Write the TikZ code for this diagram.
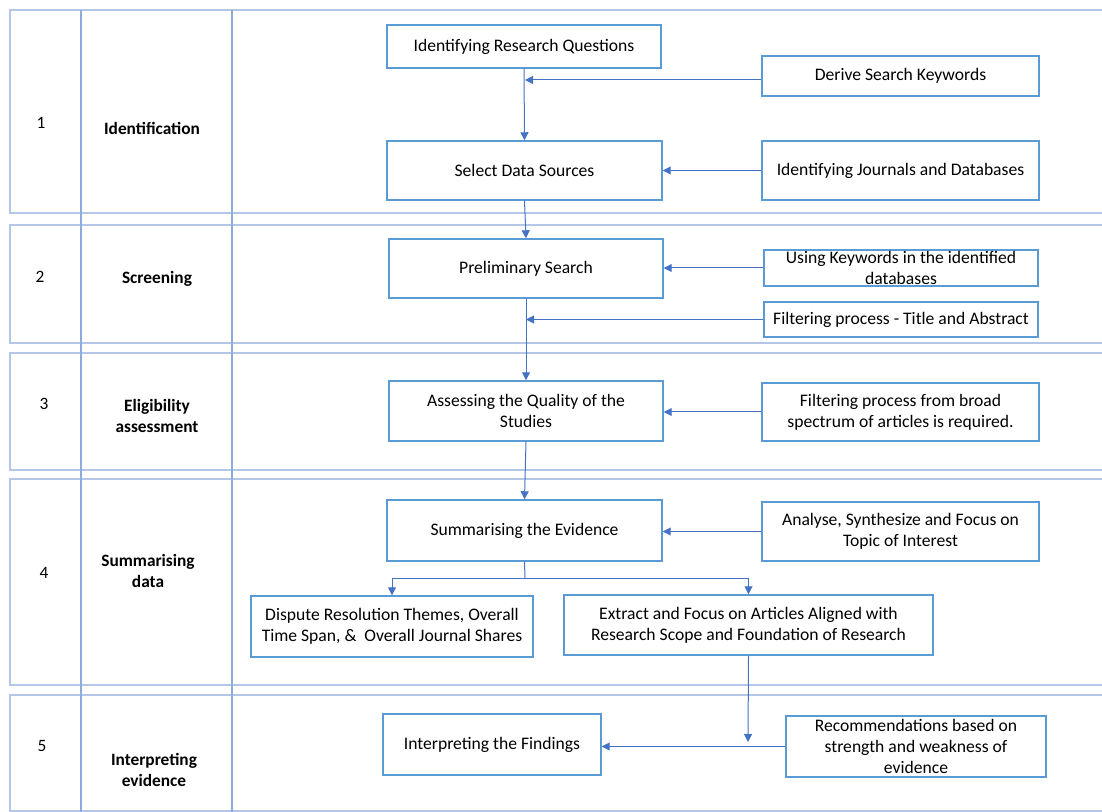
\documentclass[tikz,border=0pt]{standalone}
\usepackage{fontspec}
\setmainfont{Carlito}
\usetikzlibrary{arrows.meta}
\definecolor{lanec}{HTML}{B4C7E7}
\definecolor{vlinec}{HTML}{8FAADC}
\definecolor{boxc}{HTML}{5B9BD5}
\definecolor{arrc}{HTML}{4472C4}
\tikzset{
  lane/.style={draw=lanec, line width=0.9pt},
  vline/.style={draw=vlinec, line width=0.9pt},
  box/.style={draw=boxc, line width=1.1pt, rectangle, inner sep=0pt, align=center, font=\fontsize{13.2pt}{15.75pt}\selectfont},
  arr/.style={draw=arrc, line width=0.75pt, -{Triangle[length=6pt,width=6pt]}},
  conn/.style={draw=arrc, line width=0.75pt},
  lbl/.style={font=\fontsize{13pt}{15.75pt}\selectfont\bfseries, align=center},
  num/.style={font=\fontsize{13pt}{15.75pt}\selectfont}
}
\newcommand\bx[6]{\node[box, minimum width={(#4-#2)*0.75pt}, minimum height={(#5-#3)*0.75pt}] (#1) at ({(#2+#4)/2},{(#3+#5)/2}) {#6};}
\begin{document}
\begin{tikzpicture}[x=0.75pt,y=-0.75pt]
\useasboundingbox (0,0) rectangle (1102,812);
% lanes
\draw[lane] (1115,10) -- (10,10) -- (10,213) -- (1115,213);
\draw[lane] (1115,225) -- (10,225) -- (10,343) -- (1115,343);
\draw[lane] (1115,353) -- (10,353) -- (10,470) -- (1115,470);
\draw[lane] (1115,479) -- (10,479) -- (10,685) -- (1115,685);
\draw[lane] (1115,695) -- (10,695) -- (10,811) -- (1115,811);
\draw[vline] (81,10) -- (81,815);
\draw[vline] (232,10) -- (232,815);
% lane labels
\node[num] (n1) at (41,123) {1};
\node[lbl] (l1) at (152,128) {Identification};
\node[num] (n2) at (40,277) {2};
\node[lbl] (l2) at (157,279) {Screening};
\node[num] (n3) at (44,404) {3};
\node[lbl] (l3) at (157,416) {Eligibility\\assessment};
\node[num] (n4) at (44,573) {4};
\node[lbl] (l4) at (148,571) {Summarising\\data};
\node[num] (n5) at (42,746) {5};
\node[lbl] (l5) at (154,770) {Interpreting\\evidence};
% boxes
\bx{b1}{387}{25}{661}{68}{Identifying Research Questions}
\bx{b2}{762}{56}{1039}{96}{Derive Search Keywords}
\bx{b3}{387}{141}{662}{200}{Select Data Sources}
\bx{b4}{762}{141}{1039}{200}{Identifying Journals and Databases}
\bx{b5}{389}{239}{663}{298}{Preliminary Search}
\bx{b6}{764}{250}{1038}{286}{Using Keywords in the identified\\databases}
\bx{b7}{764}{302}{1038}{337}{Filtering process - Title and Abstract}
\bx{b8}{389}{381}{663}{441}{Assessing the Quality of the\\Studies}
\bx{b9}{762}{383}{1039}{441}{Filtering process from broad\\spectrum of articles is required.}
\bx{b10}{387}{500}{662}{561}{Summarising the Evidence}
\bx{b11}{762}{502}{1039}{561}{Analyse, Synthesize and Focus on\\Topic of Interest}
\bx{b12}{251}{596}{533}{657}{Dispute Resolution Themes, Overall\\Time Span, \&\ \ Overall Journal Shares}
\bx{b13}{564}{595}{933}{655}{Extract and Focus on Articles Aligned with\\Research Scope and Foundation of Research}
\bx{b14}{383}{714}{601}{775}{Interpreting the Findings}
\bx{b15}{786}{716}{1046}{777}{Recommendations based on\\strength and weakness of\\evidence}
% connectors
\coordinate (j1) at (525,80);
\coordinate (j2) at (b5.south |- b7.west);
\coordinate (br) at (525,578);
\coordinate (e1) at (748,742);
\draw[arr] (b1.south) -- (b3.north);
\draw[arr] (b2.west |- j1) -- (j1);
\draw[arr] (b4.west) -- (b4.west -| b3.east);
\draw[arr] (b3.south) -- (b5.north);
\draw[arr] (b6.west) -- (b6.west -| b5.east);
\draw[arr] (b7.west) -- (j2);
\draw[arr] (b5.south) -- (b8.north);
\draw[arr] (b9.west) -- (b9.west -| b8.east);
\draw[arr] (b8.south) -- (b10.north);
\draw[arr] (b11.west) -- (b11.west -| b10.east);
\draw[conn] (b10.south) -- (br);
\draw[arr] (br) -| (b12.north);
\draw[arr] (br) -| (b13.north);
\draw[arr] (b13.south) -- (e1);
\draw[arr] (b15.west) -- (b15.west -| b14.east);
\end{tikzpicture}
\end{document}
